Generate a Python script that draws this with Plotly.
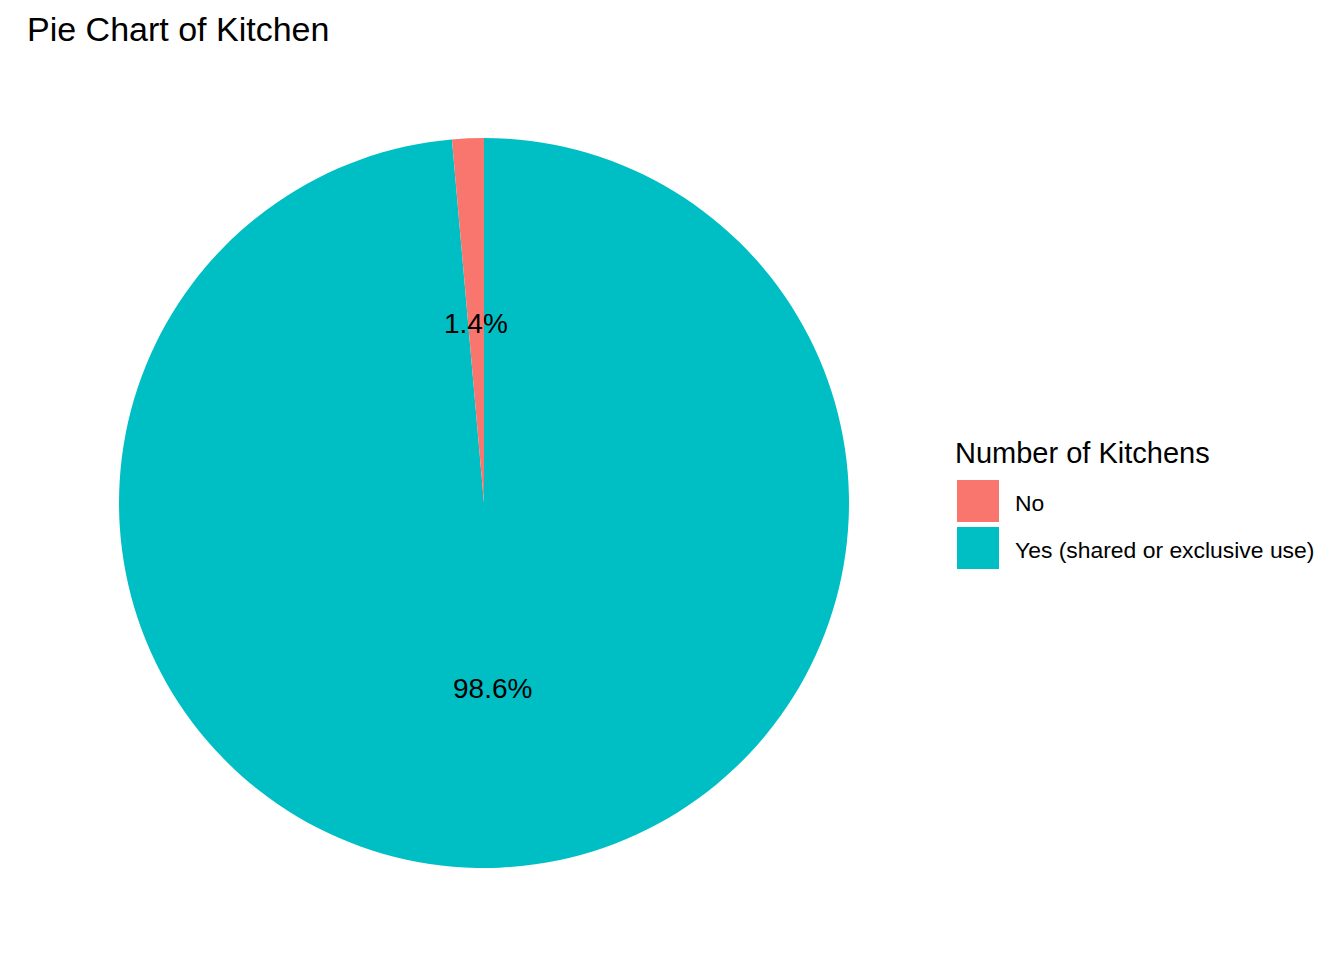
import math
import plotly.graph_objects as go

# Data
categories = ["No", "Yes (shared or exclusive use)"]
percent_values = [1.4, 98.6]
colors = ["#F8766D", "#00BFC4"]
title_text = "Pie Chart of Kitchen"
legend_title = "Number of Kitchens"

W, H = 1344, 960
FONT = "Liberation Sans, Arial, sans-serif"

# pie geometry (pixels)
cx, cy, R = 484, 503, 365

def px(x):
    return x / W

def py(y):
    return 1 - y / H

fig = go.Figure()
# ggplot draws the first level counterclockwise from 12 o'clock; in plotly this
# equals drawing the levels in reverse order clockwise from 12 o'clock.
fig.add_trace(go.Pie(
    labels=categories[::-1],
    values=percent_values[::-1],
    marker=dict(colors=colors[::-1], line=dict(width=0)),
    sort=False,
    direction="clockwise",
    rotation=0,
    textinfo="none",
    hoverinfo="label+percent",
    showlegend=False,
    domain=dict(x=[px(cx - R), px(cx + R)], y=[py(cy + R), py(cy - R)]),
))

annotations = []
total = sum(percent_values)
cum = 0.0
for v in percent_values:
    mid = (cum + v / 2) / total
    cum += v
    theta = 2 * math.pi * mid
    lx = cx - 0.5 * R * math.sin(theta)
    ly = cy - 0.5 * R * math.cos(theta) + 3
    annotations.append(dict(
        x=px(lx), y=py(ly), xref="paper", yref="paper",
        text=f"{v / total * 100:.1f}%", showarrow=False,
        xanchor="center", yanchor="middle",
        font=dict(family=FONT, size=28, color="black"),
    ))

# title
annotations.append(dict(
    x=px(25), y=py(29), xref="paper", yref="paper",
    text=title_text, showarrow=False, xanchor="left", yanchor="middle",
    font=dict(family=FONT, size=34, color="black"),
))

# legend (manual, ggplot style)
annotations.append(dict(
    x=px(953), y=py(453), xref="paper", yref="paper",
    text=legend_title, showarrow=False, xanchor="left", yanchor="middle",
    font=dict(family=FONT, size=29, color="black"),
))
shapes = []
key_top = 480
key_size = 42
key_gap = 5
for i, (cat, col) in enumerate(zip(categories, colors)):
    y0 = key_top + i * (key_size + key_gap)
    shapes.append(dict(
        type="rect", xref="paper", yref="paper",
        x0=px(957), x1=px(957 + key_size), y0=py(y0 + key_size), y1=py(y0),
        fillcolor=col, line=dict(width=0),
    ))
    annotations.append(dict(
        x=px(1013), y=py(y0 + key_size / 2 + 2), xref="paper", yref="paper",
        text=cat, showarrow=False, xanchor="left", yanchor="middle",
        font=dict(family=FONT, size=22.9, color="black"),
    ))

fig.update_layout(
    width=W, height=H, autosize=False,
    margin=dict(l=0, r=0, t=0, b=0),
    paper_bgcolor="white", plot_bgcolor="white",
    annotations=annotations, shapes=shapes,
    font=dict(family=FONT),
)
fig.write_html("out.html")
